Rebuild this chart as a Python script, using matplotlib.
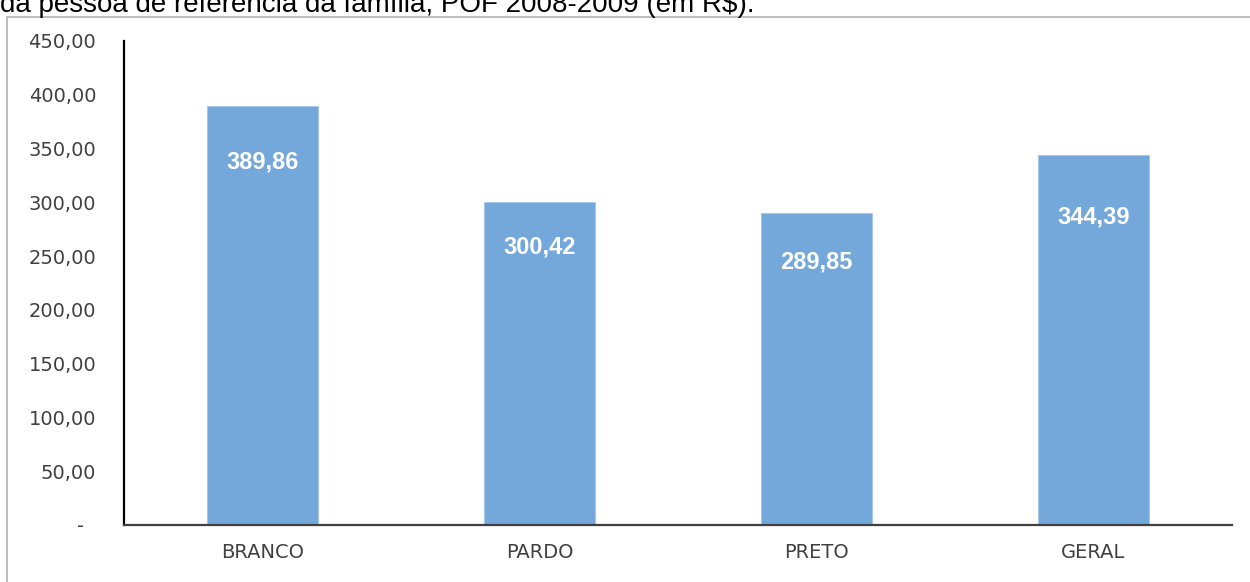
import matplotlib.pyplot as plt
from matplotlib.patches import Rectangle

# ------------------------------------------------
#  Dados
# ------------------------------------------------
categorias = ["BRANCO", "PARDO", "PRETO", "GERAL"]
valores = [389.86, 300.42, 289.85, 344.39]
yticks = [0, 50, 100, 150, 200, 250, 300, 350, 400, 450]

titulo = "da pessoa de referência da família, POF 2008-2009 (em R$)."

# deslocamento (px) dos rótulos abaixo do topo da barra
label_offsets = [56, 45, 49, 62]

COR_BARRA = "#74a8da"
COR_TEXTO = "#404040"


def fmt_br(v):
    if v == 0:
        return "-  "
    return f"{v:,.2f}".replace(",", "X").replace(".", ",").replace("X", ".")


fig = plt.figure(figsize=(12.5, 5.82), dpi=100)
W, H = 1250, 582

# moldura cinza cortada
fig.patches.append(Rectangle((7 / W, -0.1), 1.2, 1.1 - 17 / H,
                             transform=fig.transFigure, fill=False,
                             edgecolor="#bfbfbf", linewidth=1.5))

fig.text(0.0, 1 - 12 / H, titulo, fontsize=20, family="Liberation Sans",
         color="black", va="baseline", ha="left")

ax = fig.add_axes([124 / W, 1 - 525 / H, (1232 - 124) / W, (525 - 41) / H])

x = list(range(len(categorias)))
ax.bar(x, valores, width=0.4, color=COR_BARRA, edgecolor="#a8c8ea",
       linewidth=0.8)

for xi, v, off in zip(x, valores, label_offsets):
    ax.annotate(fmt_br(v), (xi, v), xytext=(0, -off),
                textcoords="offset pixels", ha="center", va="center",
                color="white", fontsize=17, fontweight="bold",
                family="Liberation Sans")

ax.set_xlim(-0.5, len(categorias) - 0.5)
ax.set_ylim(0, 450)
ax.set_yticks(yticks)
ax.set_yticklabels([fmt_br(t) for t in yticks])
ax.set_xticks(x)
ax.set_xticklabels(categorias)

ax.tick_params(axis="y", length=0, pad=20, labelsize=14, labelcolor=COR_TEXTO)
ax.tick_params(axis="x", length=0, pad=13, labelsize=14, labelcolor=COR_TEXTO)

for s in ["top", "right"]:
    ax.spines[s].set_visible(False)
ax.spines["left"].set_color("black")
ax.spines["left"].set_linewidth(1.6)
ax.spines["bottom"].set_color(COR_TEXTO)
ax.spines["bottom"].set_linewidth(1.6)

fig.savefig("out.png", dpi=100)
